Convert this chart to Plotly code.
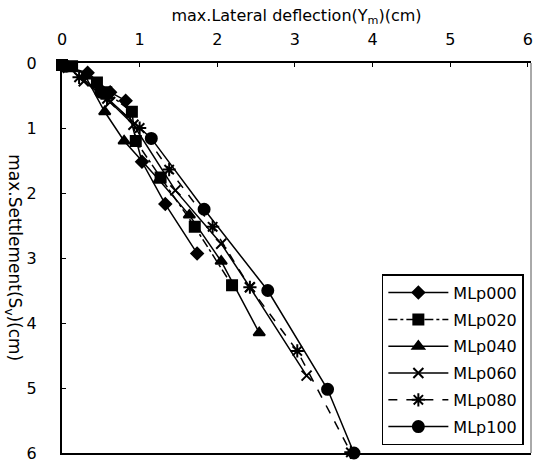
import plotly.graph_objects as go

series_names = ["MLp000", "MLp020", "MLp040", "MLp060", "MLp080", "MLp100"]

x_000 = [0.02, 0.33, 0.62, 0.82, 1.03, 1.33, 1.74]
y_000 = [0.05, 0.15, 0.45, 0.58, 1.52, 2.17, 2.93]

x_020 = [0.0, 0.13, 0.45, 0.57, 0.90, 0.95, 1.27, 1.71, 2.19]
y_020 = [0.03, 0.05, 0.30, 0.45, 0.75, 1.20, 1.76, 2.52, 3.42]

x_040 = [0.30, 0.55, 0.80, 1.25, 1.64, 2.05, 2.54]
y_040 = [0.20, 0.75, 1.20, 1.80, 2.34, 3.05, 4.15]

x_060 = [0.28, 0.62, 0.92, 1.46, 2.05, 2.42, 3.15]
y_060 = [0.28, 0.60, 0.95, 1.96, 2.78, 3.45, 4.81]

x_080 = [0.22, 0.58, 1.00, 1.38, 1.94, 2.42, 3.03, 3.72]
y_080 = [0.22, 0.55, 1.00, 1.64, 2.52, 3.45, 4.43, 5.99]

x_100 = [0.05, 0.50, 1.15, 1.83, 2.65, 3.42, 3.76]
y_100 = [0.05, 0.45, 1.16, 2.25, 3.50, 5.02, 6.00]

x_ticks = [0, 1, 2, 3, 4, 5, 6]
y_ticks = [0, 1, 2, 3, 4, 5, 6]

xs = [x_000, x_020, x_040, x_060, x_080, x_100]
ys = [y_000, y_020, y_040, y_060, y_080, y_100]
symbols = ["diamond", "square", "triangle-up", "x-thin-open", "asterisk-open", "circle"]
sizes = [9, 10, 10, 10, 11, 11]
dashes = ["solid", "dashdot", "solid", "solid", "dash", "solid"]

fig = go.Figure()
for name, xv, yv, sym, sz, ds in zip(series_names, xs, ys, symbols, sizes, dashes):
    fig.add_trace(go.Scatter(
        x=xv, y=yv, name=name, mode="lines+markers", legendgroup=name,
        line=dict(color="black", width=1.5, dash=ds),
        marker=dict(symbol=sym, size=sz, color="black",
                    line=dict(color="black", width=2)),
        cliponaxis=False,
    ))

font = "DejaVu Sans, Verdana, sans-serif"
fig.update_layout(
    width=542, height=472,
    margin=dict(l=62, r=9, t=63, b=10),
    paper_bgcolor="white", plot_bgcolor="white",
    font=dict(family=font, size=16, color="black"),
    showlegend=True,
    legend=dict(
        x=0.682, y=0.02, xanchor="left", yanchor="bottom",
        bgcolor="white", bordercolor="black", borderwidth=1.5,
        font=dict(family=font, size=16, color="black"),
        itemwidth=60, tracegroupgap=3,
    ),
    xaxis=dict(
        side="top", range=[0, 6.04], tickvals=x_ticks,
        ticktext=[str(v) for v in x_ticks],
        showgrid=False, zeroline=False,
        showline=True, linecolor="black", linewidth=2, mirror=True,
        ticks="inside", ticklen=4, tickcolor="black",
        ticklabelstandoff=10,
        tickfont=dict(size=16),
        title=dict(text="max.Lateral deflection(Y<sub>m</sub>)(cm)",
                   font=dict(size=16), standoff=4),
    ),
    yaxis=dict(
        range=[6, 0], tickvals=y_ticks,
        ticktext=[str(v) for v in y_ticks],
        showgrid=False, zeroline=False,
        showline=True, linecolor="black", linewidth=2, mirror=False,
        ticks="inside", ticklen=4, tickcolor="black",
        ticklabelstandoff=20,
        tickfont=dict(size=16),
    ),
    shapes=[dict(type="line", xref="paper", yref="paper",
                 x0=1, x1=1, y0=0, y1=1,
                 line=dict(color="#555555", width=1))],
    annotations=[dict(
        text="max.Settlement(S<sub>v</sub>)(cm)", textangle=90,
        x=-0.103, y=0.5, xref="paper", yref="paper",
        xanchor="center", yanchor="middle",
        showarrow=False, font=dict(family=font, size=17, color="black"),
    )],
)

fig.write_html("out.html")
